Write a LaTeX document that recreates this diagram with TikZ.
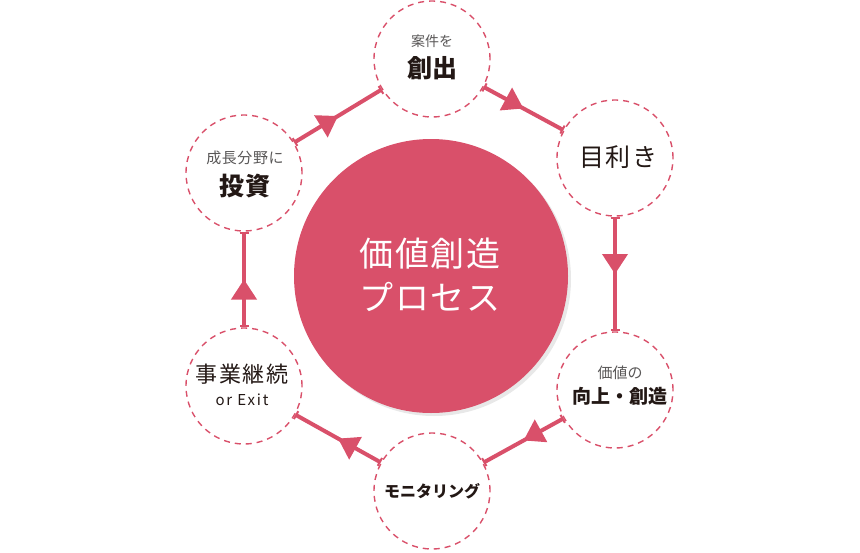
\documentclass[tikz,border=0pt]{standalone}
\usepackage{fontspec}
\setmainfont{Noto Sans CJK JP}
\usepackage{xcolor}
\usetikzlibrary{arrows.meta,decorations.markings,shadows}
\definecolor{rose}{HTML}{D9506A}
\definecolor{ink}{HTML}{231815}
\definecolor{subink}{HTML}{595757}
\tikzset{
  stage/.style ={circle, draw=rose, dash pattern=on 6pt off 5pt, line width=1.4pt,
                 minimum size=116pt, inner sep=0pt},
  core/.style  ={circle, fill=rose, minimum size=274pt, inner sep=0pt,
                 drop shadow={opacity=0.18, shadow xshift=3pt, shadow yshift=-3pt}},
  lead/.style  ={text=subink, font=\fontsize{14}{16}\selectfont, inner sep=0pt},
  head/.style  ={text=ink, font=\bfseries\fontsize{25}{28}\selectfont, inner sep=0pt},
  flow/.style  ={draw=rose, line width=4pt,
                 {Bar[width=9pt,line width=2pt]}-{Bar[width=9pt,line width=2pt]},
                 postaction={decorate},
                 decoration={markings, mark=at position 0.5 with
                   {\arrow[rose]{Triangle[width=25pt,length=20pt]}}}},
}

\begin{document}
\begin{tikzpicture}[x=1pt, y=-1pt]
  \useasboundingbox (0,0) rectangle (860,552);

  % centre
  \node[core] (process) at (431,276) {};
  \node[text=white, font=\fontsize{34}{44}\selectfont\addfontfeatures{LetterSpace=4}]
       (processA) at (430,254) {価値創造};
  \node[text=white, font=\fontsize{34}{44}\selectfont\addfontfeatures{LetterSpace=4}]
       (processB) at (430,297) {プロセス};

  % stages
  \node[stage] (create)  at (432,59)  {};
  \node[stage] (assess)  at (615,158) {};
  \node[stage] (grow)    at (615,390) {};
  \node[stage] (monitor) at (432,491) {};
  \node[stage] (exit)    at (244,386) {};
  \node[stage] (invest)  at (244,173) {};

  \node[lead] (createA) at (432,41) {案件を};
  \node[head] (createB) at (432,68) {創出};

  \node[text=ink, font=\fontsize{25}{28}\selectfont\addfontfeatures{LetterSpace=6}]
       (assessA) at (618,157) {目利き};

  \node[lead, font=\fontsize{15}{17}\selectfont] (growA) at (620,373) {価値の};
  \node[head, font=\bfseries\fontsize{19}{22}\selectfont] (growB) at (620,396) {向上・創造};

  \node[text=ink, font=\bfseries\fontsize{16}{18}\selectfont] (monitorA) at (432,491) {モニタリング};

  \node[text=ink, font=\fontsize{22}{26}\selectfont\addfontfeatures{LetterSpace=8}]
       (exitA) at (242,374) {事業継続};
  \node[text=ink, font=\fontsize{15}{17}\selectfont\addfontfeatures{LetterSpace=12}]
       (exitB) at (242,400) {or Exit};

  \node[lead, font=\fontsize{15}{17}\selectfont\addfontfeatures{LetterSpace=4}]
       (investA) at (245,158) {成長分野に};
  \node[head, font=\bfseries\fontsize{25}{28}\selectfont\addfontfeatures{LetterSpace=4}]
       (investB) at (245,186) {投資};

  % cycle
  \draw[flow] (create)  -- (assess);
  \draw[flow] (assess)  -- (grow);
  \draw[flow] (grow)    -- (monitor);
  \draw[flow] (monitor) -- (exit);
  \draw[flow] (exit)    -- (invest);
  \draw[flow] (invest)  -- (create);
\end{tikzpicture}
\end{document}
